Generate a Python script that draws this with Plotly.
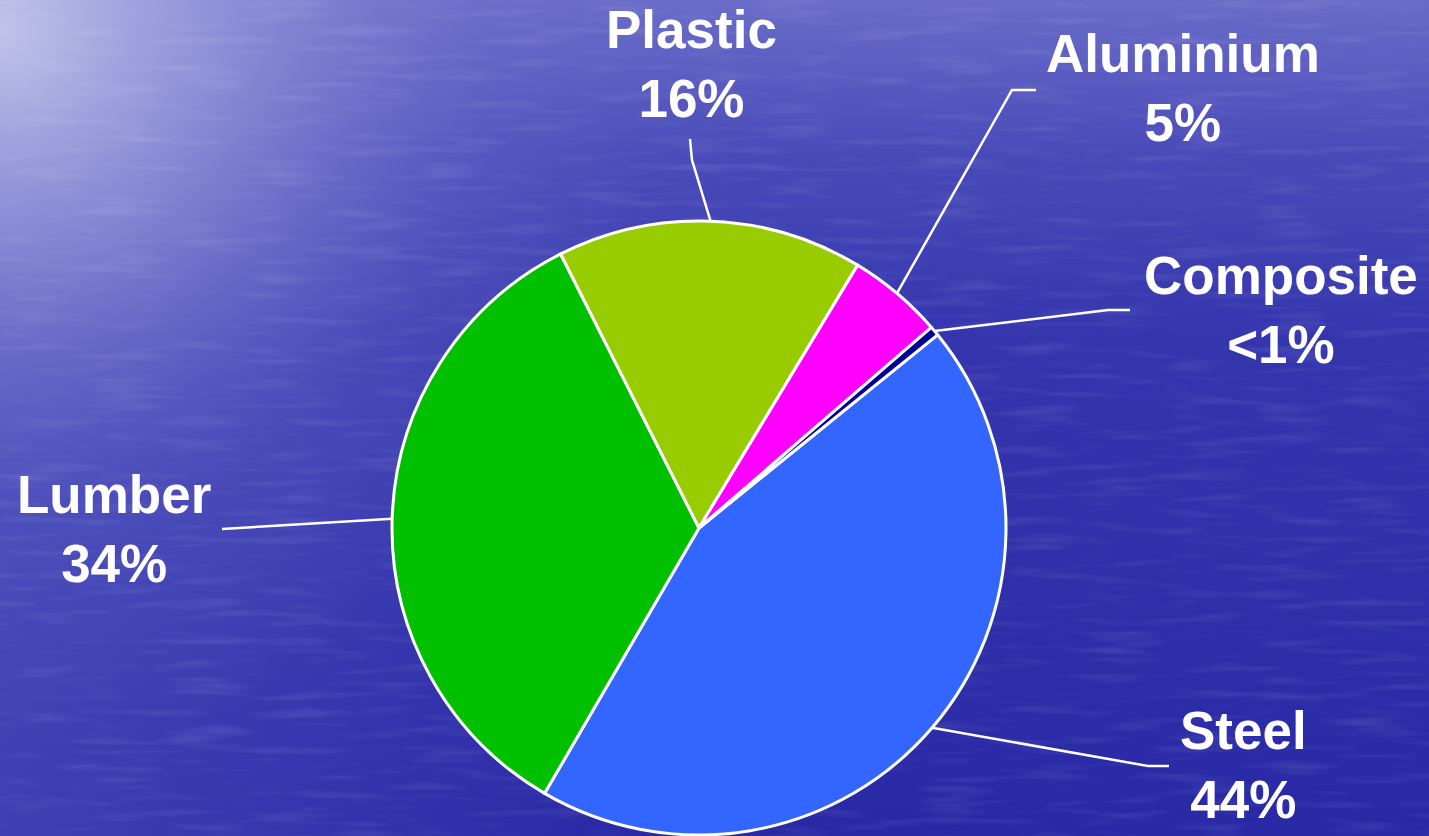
import base64
import math

import plotly.graph_objects as go

# Material share data
materials = ["Steel", "Lumber", "Plastic", "Aluminium", "Composite"]
shares = [44, 34, 16, 5, 0.5]
share_labels = ["44%", "34%", "16%", "5%", "<1%"]
slice_colors = ["#3366FF", "#00C000", "#99CC00", "#FF00FF", "#000099"]

# Canvas and pie geometry (pixels)
W, H = 1429, 836
CX, CY, R = 699, 528, 307
ROTATION = 51  # degrees clockwise from 12 o'clock where Steel begins

# Label placement: text centre, leader elbow, leader end (pixels)
label_layout = {
    "Steel":     dict(text=(1243, 765), elbow=(1148, 766), end=(1169, 766)),
    "Lumber":    dict(text=(114, 529), elbow=(230, 529), end=(222, 529)),
    "Plastic":   dict(text=(691, 64), elbow=(692, 160), end=(690, 139)),
    "Aluminium": dict(text=(1183, 88), elbow=(1012, 90), end=(1036, 90)),
    "Composite": dict(text=(1281, 310), elbow=(1108, 310), end=(1130, 310)),
}

FONT = "Liberation Sans, Arial, sans-serif"

# Water-like background: vertical blue gradient, pale glow over the top-left,
# and faint horizontal ripples
svg = f"""<svg xmlns='http://www.w3.org/2000/svg' width='{W}' height='{H}' viewBox='0 0 {W} {H}' preserveAspectRatio='none'>
<defs>
<linearGradient id='v' x1='0' y1='0' x2='0' y2='1'>
<stop offset='0' stop-color='#6a6cc8'/>
<stop offset='0.18' stop-color='#4a4bb9'/>
<stop offset='0.4' stop-color='#3536ae'/>
<stop offset='1' stop-color='#2929a6'/>
</linearGradient>
<radialGradient id='g' gradientUnits='userSpaceOnUse' cx='0' cy='30' r='760'
 gradientTransform='translate(0 30) scale(1 0.95) translate(0 -30)'>
<stop offset='0' stop-color='#cacced' stop-opacity='0.92'/>
<stop offset='0.3' stop-color='#a6a8e1' stop-opacity='0.62'/>
<stop offset='0.65' stop-color='#7a7cd0' stop-opacity='0.22'/>
<stop offset='1' stop-color='#6a6cc8' stop-opacity='0'/>
</radialGradient>
<linearGradient id='lf' x1='0' y1='0' x2='1' y2='0'>
<stop offset='0' stop-color='#5a5cc4' stop-opacity='0.45'/>
<stop offset='0.45' stop-color='#5a5cc4' stop-opacity='0'/>
</linearGradient>
<filter id='n' x='0' y='0' width='100%' height='100%'>
<feTurbulence type='fractalNoise' baseFrequency='0.012 0.11' numOctaves='2' seed='4'/>
<feColorMatrix values='0 0 0 0 1  0 0 0 0 1  0 0 0 0 1  1.4 0 0 0 -0.7'/>
</filter>
</defs>
<rect width='{W}' height='{H}' fill='url(#v)'/>
<rect width='{W}' height='{H}' fill='url(#lf)'/>
<rect width='{W}' height='{H}' fill='url(#g)'/>
<rect width='{W}' height='{H}' filter='url(#n)' opacity='0.16'/>
</svg>"""
bg_uri = "data:image/svg+xml;base64," + base64.b64encode(svg.encode()).decode()

fig = go.Figure()

fig.add_trace(go.Pie(
    labels=materials,
    values=shares,
    sort=False,
    direction="clockwise",
    rotation=ROTATION,
    marker=dict(colors=slice_colors, line=dict(color="white", width=3)),
    textinfo="none",
    hoverinfo="label+percent",
    showlegend=False,
    domain=dict(
        x=[(CX - R) / W, (CX + R) / W],
        y=[max(0.0, 1 - (CY + R) / H), min(1.0, 1 - (CY - R) / H)],
    ),
))

# Leader lines from each slice's mid-arc to its label
total = sum(shares)
start = ROTATION
for name, value, pct in zip(materials, shares, share_labels):
    span = value / total * 360
    mid = math.radians(start + span / 2)
    start += span
    ax = CX + R * math.sin(mid)
    ay = CY - R * math.cos(mid)
    lay = label_layout[name]
    ex, ey = lay["elbow"]
    tx, ty = lay["end"]
    fig.add_trace(go.Scatter(
        x=[ax, ex, tx], y=[ay, ey, ty],
        mode="lines", line=dict(color="white", width=2.5),
        hoverinfo="skip", showlegend=False,
    ))
    lx, ly = lay["text"]
    fig.add_annotation(
        x=lx, y=ly, xref="x", yref="y",
        text=f"{name}<br>{pct}",
        showarrow=False, align="center",
        xanchor="center", yanchor="middle",
        font=dict(family=FONT, size=53, color="white", weight="bold"),
    )

fig.update_layout(
    width=W, height=H,
    margin=dict(l=0, r=0, t=0, b=0),
    paper_bgcolor="#3536ae",
    plot_bgcolor="rgba(0,0,0,0)",
    xaxis=dict(range=[0, W], visible=False, fixedrange=True, domain=[0, 1]),
    yaxis=dict(range=[H, 0], visible=False, fixedrange=True, domain=[0, 1]),
    images=[dict(
        source=bg_uri, xref="paper", yref="paper", x=0, y=1,
        sizex=1, sizey=1, xanchor="left", yanchor="top",
        sizing="stretch", layer="below",
    )],
)

fig.write_html("out.html")
